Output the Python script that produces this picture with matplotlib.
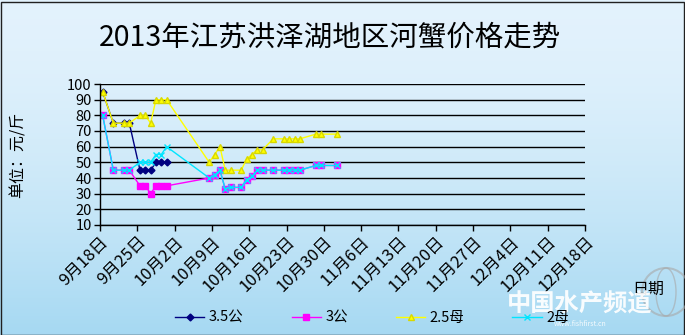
import matplotlib.pyplot as plt
import numpy as np
from matplotlib.patches import Circle, Ellipse, Rectangle

plt.rcParams['font.family'] = ['Noto Sans CJK SC', 'DejaVu Sans']

# days counted from 9月18日
days = [0, 2, 4, 5, 7, 8, 9, 10, 11, 12, 20, 21, 22, 23, 24, 26, 27, 28,
        29, 30, 32, 34, 35, 36, 37, 40, 41, 44]
gong35 = [95, 75, 75, 75, 45, 45, 45, 50, 50, 50]
gong3 = [80, 45, 45, 45, 35, 35, 30, 35, 35, 35, 40, 42, 45, 33, 34, 34, 39, 41,
         45, 45, 45, 45, 45, 45, 45, 48, 48, 48]
mu25 = [95, 75, 75, 75, 80, 80, 75, 90, 90, 90, 50, 55, 60, 45, 45, 45, 52, 55,
        58, 58, 65, 65, 65, 65, 65, 68, 68, 68]
mu2 = [80, 45, 45, 45, 50, 50, 50, 55, 55, 60, 40, 42, 45, 33, 34, 34, 39, 41,
       45, 45, 45, 45, 45, 45, 45, 48, 48, 48]
tick_labels = ['9月18日', '9月25日', '10月2日', '10月9日', '10月16日', '10月23日',
               '10月30日', '11月6日', '11月13日', '11月20日', '11月27日', '12月4日',
               '12月11日', '12月18日']
names = ['3.5公', '3公', '2.5母', '2母']

fig = plt.figure(figsize=(6.85, 3.35), dpi=100)

# background gradient
bg = fig.add_axes([0, 0, 1, 1], zorder=-10)
grad = np.linspace(0, 1, 256).reshape(-1, 1)
top = np.array([0.89, 0.95, 0.99])
bot = np.array([0.65, 0.85, 0.95])
img = top + (bot - top) * grad[:, :, None] ** 1.6
bg.imshow(img, aspect='auto', extent=[0, 1, 0, 1])
bg.axis('off')
fig.add_artist(Rectangle((0.001, 0.0), 0.998, 0.994, transform=fig.transFigure,
                         fill=False, ec='#202020', lw=1))

ax = fig.add_axes([100 / 685, 1 - 225 / 335, 485 / 685, 141 / 335])
ax.set_facecolor('none')

x = np.array(days) + 0.5
ax.plot(x[:len(gong35)], gong35, color='#000080', lw=1, marker='D', ms=3.5,
        label=names[0])
ax.plot(x, gong3, color='#ff00ff', lw=1, marker='s', ms=4.5, label=names[1])
ax.plot(x, mu25, color='#ffff00', lw=1, marker='^', ms=5, mec='#d8d800',
        label=names[2])
ax.plot(x, mu2, color='#00e5ff', lw=1, marker='x', ms=4.5, mew=1,
        label=names[3])

ax.set_xlim(0, 91)
ax.set_ylim(10, 100)
ax.set_yticks(range(10, 101, 10))
ax.set_xticks(range(0, 92, 7))
ax.set_xticklabels(tick_labels, rotation=45, ha='right', rotation_mode='anchor',
                   fontsize=12)
ax.tick_params(axis='x', length=4, width=1, pad=2)
ax.tick_params(axis='y', length=4, width=1, labelsize=10.5, pad=2)
ax.grid(axis='y', color='black', lw=1)
for s in ['top', 'right']:
    ax.spines[s].set_visible(False)
for s in ['left', 'bottom']:
    ax.spines[s].set_linewidth(1)

fig.text(330 / 685, 1 - 38 / 335, '2013年江苏洪泽湖地区河蟹价格走势',
         ha='center', va='center', fontsize=20.5, fontweight='medium')
fig.text(18 / 685, 1 - 155 / 335, '单位：元/斤', rotation=90,
         ha='center', va='center', fontsize=11.5)
fig.text(648 / 685, 1 - 289 / 335, '日期', ha='center', va='center', fontsize=11.5)

fig.legend(loc='center', bbox_to_anchor=(372 / 685, 1 - 318 / 335), ncol=4,
           frameon=False, fontsize=10.5, handlelength=2.0, columnspacing=3.3,
           handletextpad=0.3)

# watermark
fig.add_artist(Circle((666 / 100, (335 - 292) / 100), 0.24,
                      transform=fig.dpi_scale_trans, fill=False, ec='#a8a8a8',
                      lw=1.5, alpha=0.6))
fig.add_artist(Ellipse((666 / 100, (335 - 292) / 100), 0.2, 0.48,
                       transform=fig.dpi_scale_trans, fill=False, ec='#a8a8a8',
                       lw=1, alpha=0.6))
fig.text(580 / 685, 1 - 303 / 335, '中国水产频道', ha='center', va='center',
         fontsize=17.5, fontweight='bold', color='white', alpha=0.92)
fig.text(580 / 685, 1 - 324 / 335, 'www.fishfirst.cn', ha='center', va='center',
         fontsize=5, color='white', alpha=0.9)

fig.savefig('out.png', dpi=100)
